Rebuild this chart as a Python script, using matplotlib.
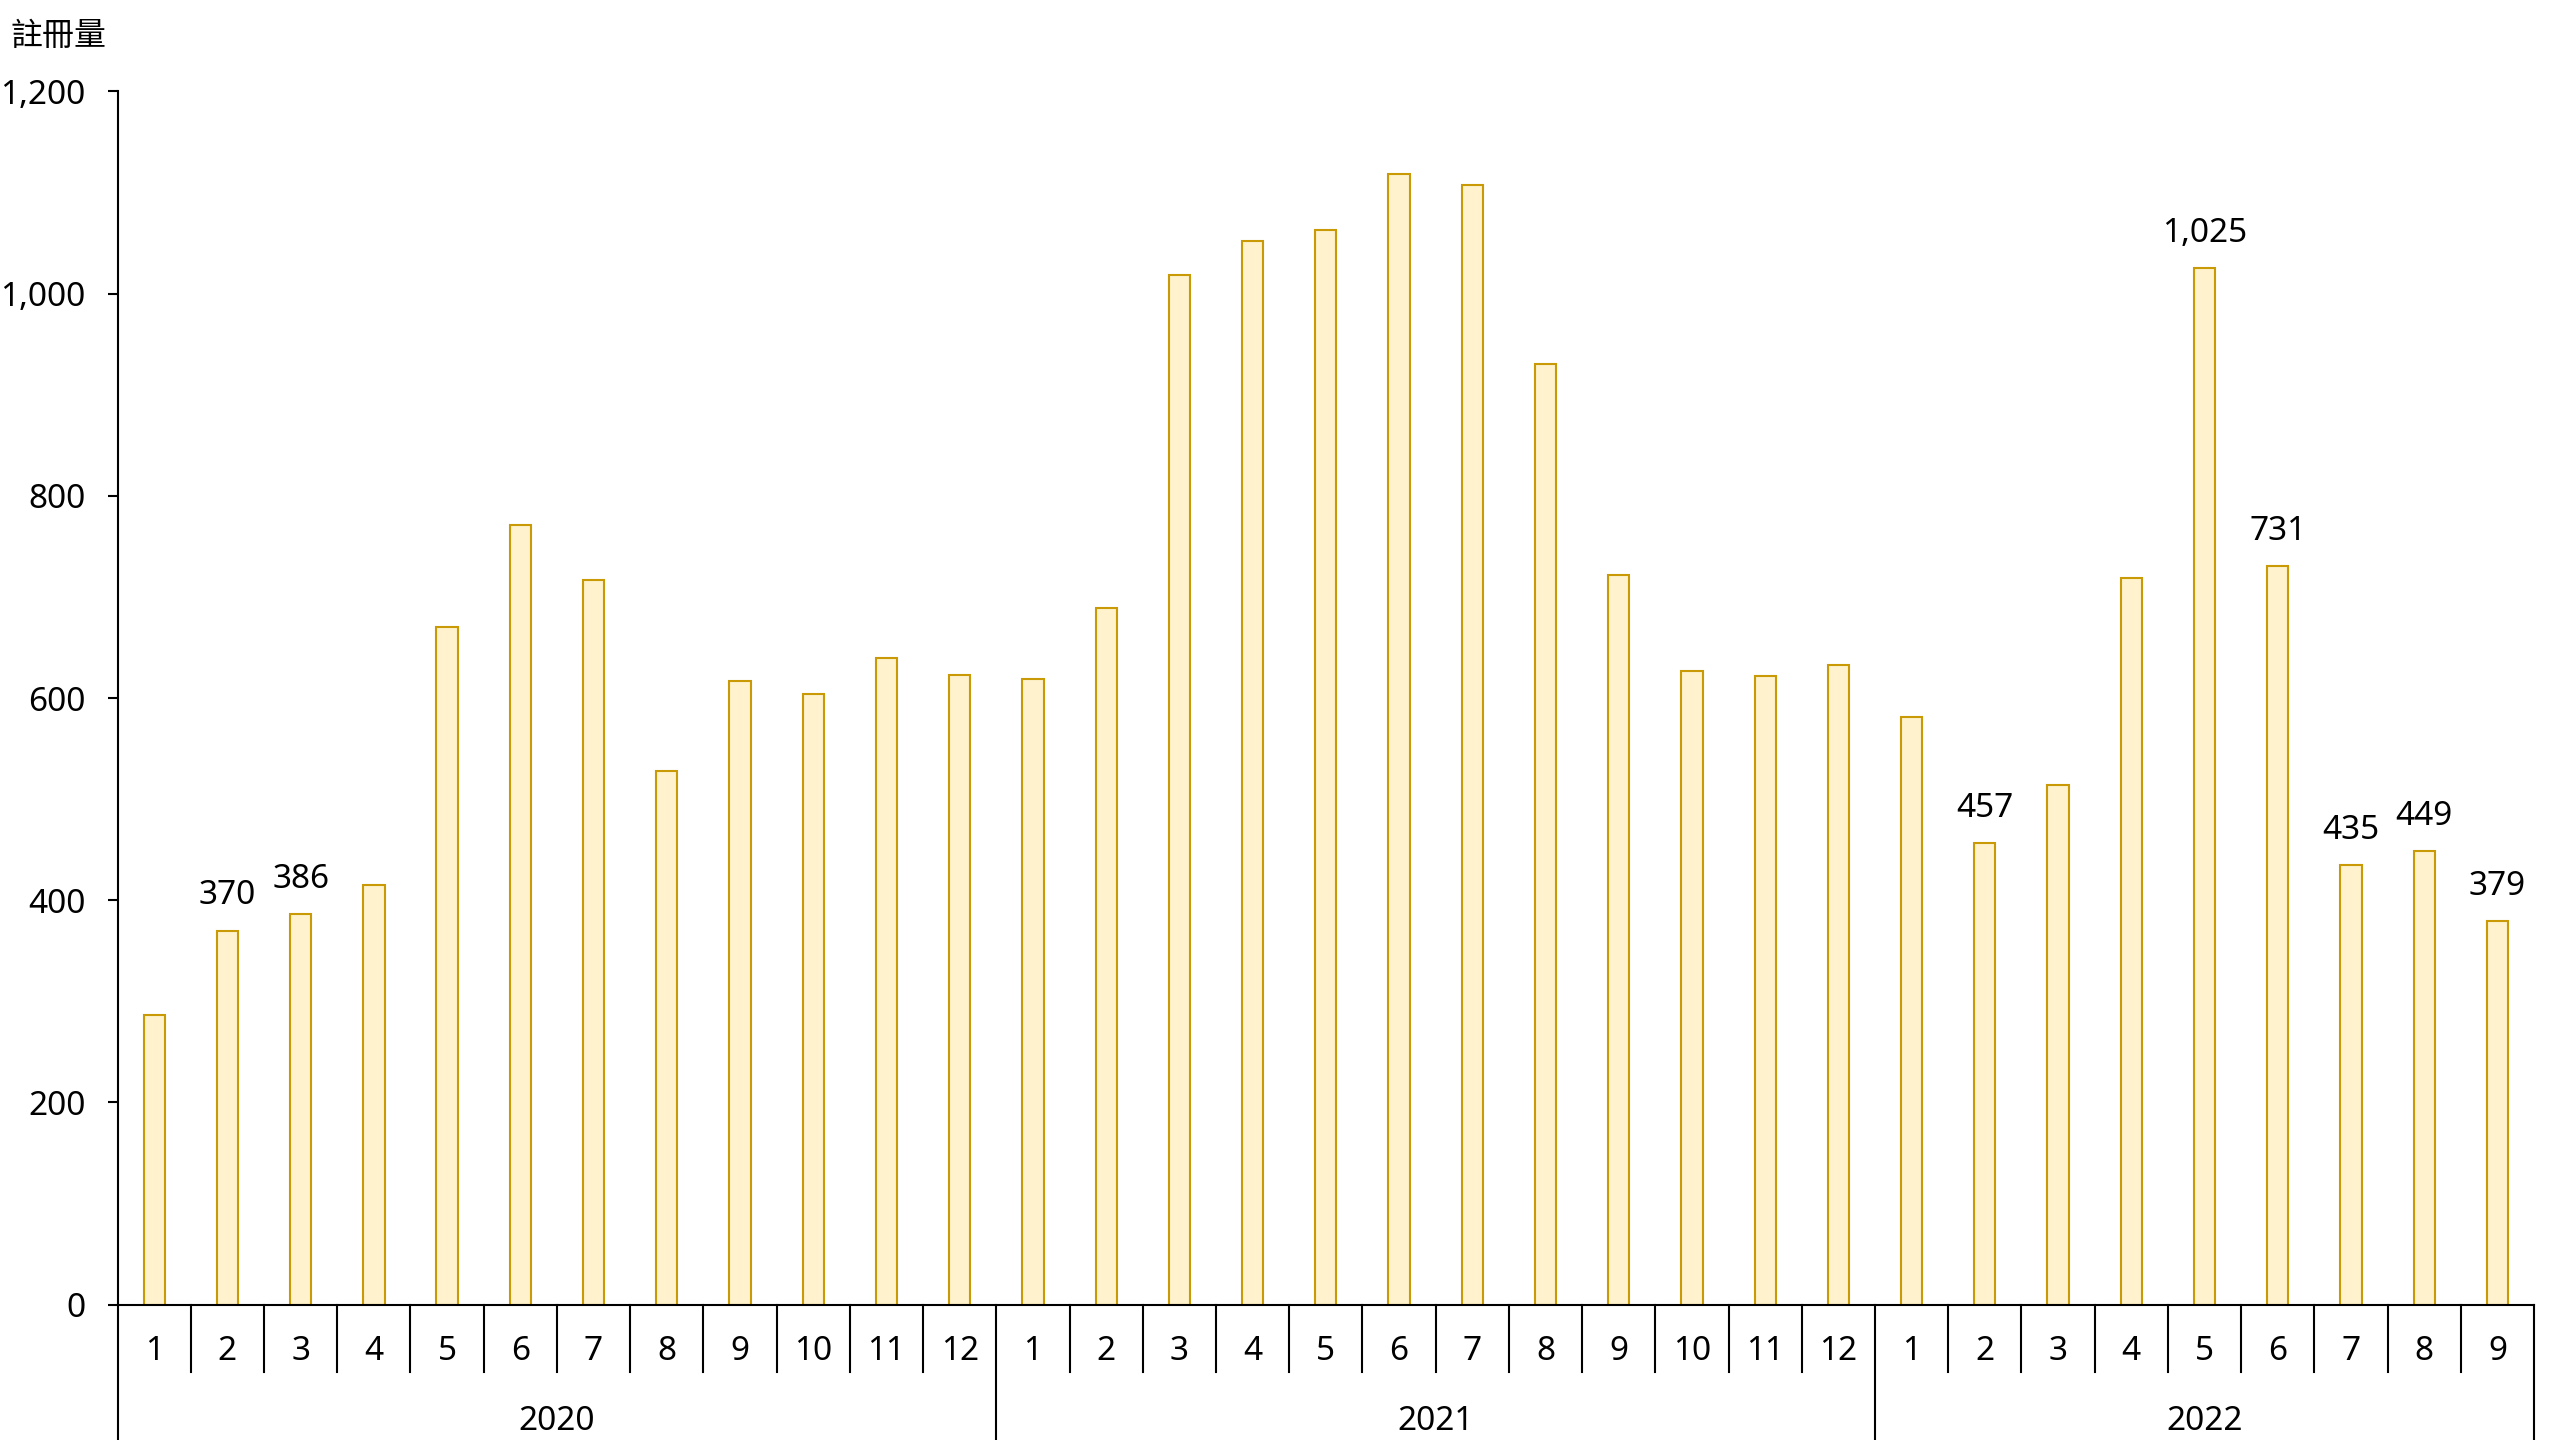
import matplotlib
matplotlib.use("Agg")
import matplotlib.pyplot as plt
from matplotlib.ticker import FuncFormatter
import matplotlib.transforms as mtransforms

plt.rcParams['font.family'] = ['Noto Sans', 'Noto Sans CJK TC', 'DejaVu Sans']

years = ["2020", "2021", "2022"]
months_per_year = [12, 12, 9]
month_labels = [str(m) for m in range(1, 13)] + [str(m) for m in range(1, 13)] + [str(m) for m in range(1, 10)]
values = [286, 370, 386, 415, 670, 771, 717, 528, 617, 604, 640, 623,
          619, 689, 1018, 1052, 1063, 1118, 1107, 930, 722, 627, 622, 633,
          581, 457, 514, 719, 1025, 731, 435, 449, 379]
labeled = [1, 2, 25, 28, 29, 30, 31, 32]
y_ticks = [0, 200, 400, 600, 800, 1000, 1200]
y_title = "註冊量"

fig = plt.figure(figsize=(25.6, 14.4), dpi=100)
ax = fig.add_axes([117.6 / 2560, 135.4 / 1440, (2534 - 117.6) / 2560, (1304.6 - 91.4) / 1440])

n = len(values)
x = list(range(n))
ax.bar(x, values, width=0.29, color="#FFF2CC", edgecolor="#C99A06", linewidth=1.5, zorder=2)

ax.set_xlim(-0.5, n - 0.5)
ax.set_ylim(0, 1200)
ax.set_yticks(y_ticks)
ax.yaxis.set_major_formatter(FuncFormatter(lambda v, p: f"{int(v):,}"))
ax.tick_params(axis='y', direction='out', length=7.2, width=1.5, pad=16, labelsize=24, colors='black')
ax.set_xticks([])

for s in ['top', 'right']:
    ax.spines[s].set_visible(False)
ax.spines['left'].set_linewidth(1.5)
ax.spines['bottom'].set_linewidth(1.5)

trans = mtransforms.blended_transform_factory(ax.transData, ax.transAxes)
h = 1304.6 - 91.4
month_bottom = -(1372 - 1304.6) / h
fig_bottom = -(1440 - 1304.6) / h - 0.01

# month separators
starts = [0]
for m in months_per_year:
    starts.append(starts[-1] + m)
year_bounds = [s - 0.5 for s in starts]
for i in range(n - 1):
    xb = i + 0.5
    if xb in year_bounds:
        continue
    ax.plot([xb, xb], [0, month_bottom], transform=trans, color='black', lw=1.5, clip_on=False)
for xb in year_bounds:
    ax.plot([xb, xb], [0, fig_bottom], transform=trans, color='black', lw=1.5, clip_on=False)

# month labels
for i, lab in enumerate(month_labels):
    ax.text(i, -(1352 - 1304.6) / h, lab, transform=trans, ha='center', va='center', fontsize=24)
# year labels
for k, yr in enumerate(years):
    cx = (year_bounds[k] + year_bounds[k + 1]) / 2
    ax.text(cx, -(1421 - 1304.6) / h, yr, transform=trans, ha='center', va='center', fontsize=24)

# data labels
for i in labeled:
    ax.annotate(f"{values[i]:,}", (i, values[i]), xytext=(0, 13), textcoords='offset points',
                ha='center', va='bottom', fontsize=24)

fig.text(10 / 2560, 1 - 36 / 1440, y_title, ha='left', va='center', fontsize=23)

fig.savefig("out.png", dpi=100, facecolor='white')
